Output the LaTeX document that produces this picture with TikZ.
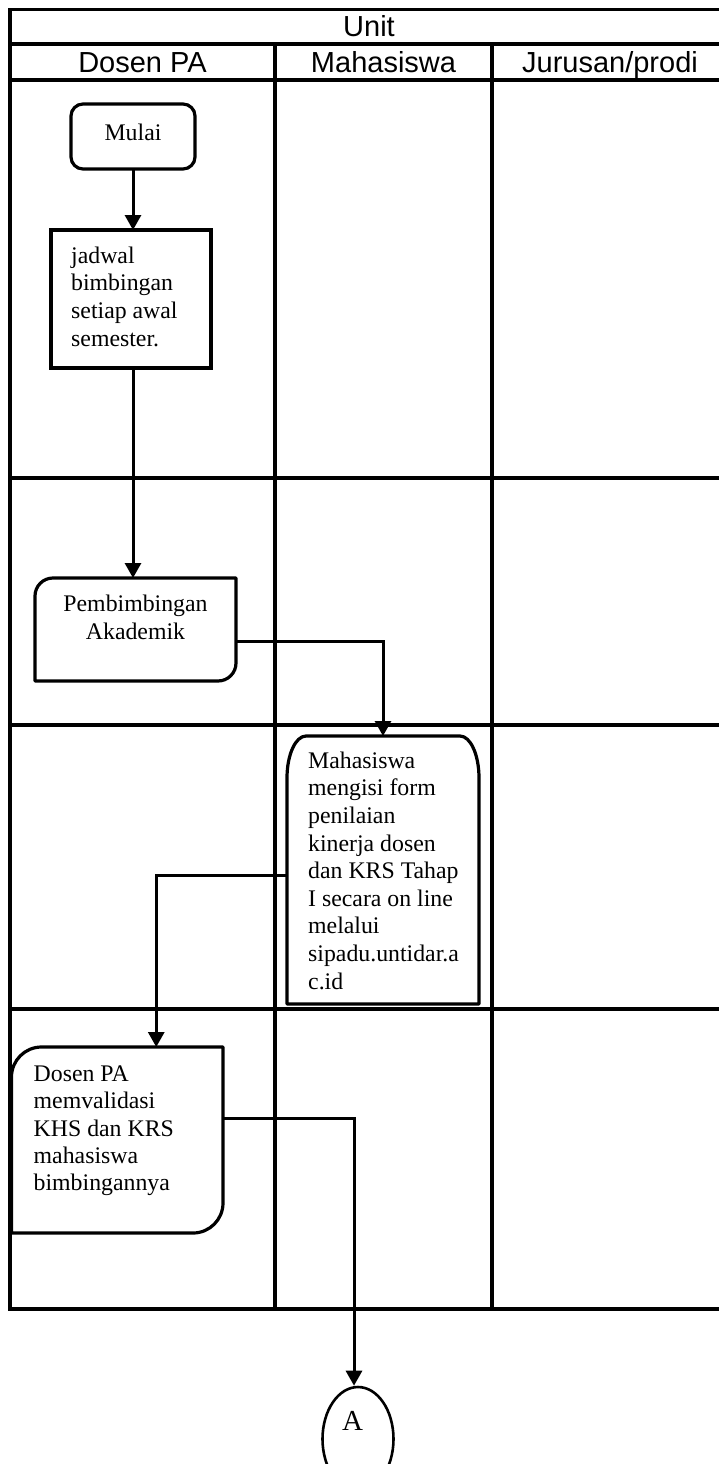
\documentclass[tikz,border=0pt]{standalone}
\usepackage{fontspec}
\setmainfont{Liberation Serif}
\newfontfamily\hdrfont{Liberation Sans}
\usetikzlibrary{arrows.meta,shapes.geometric,calc}
\begin{document}
\begin{tikzpicture}[x=1pt,y=1pt,
  tbl/.style={line width=3.3pt},
  boxline/.style={line width=3.2pt, line join=round},
  frame/.style={draw=none, inner sep=0pt, outer sep=0pt},
  hdr/.style={font=\hdrfont\fontsize{29}{34}\selectfont, anchor=base, inner sep=0pt},
  txt/.style={font=\fontsize{23.8}{27.6}\selectfont, inner sep=0pt, align=left, anchor=north west},
  conn/.style={line width=3pt, -{Triangle[length=15pt,width=16pt]}}
]
\useasboundingbox (0,0) rectangle (719,-1464);
\fill[white] (0,0) rectangle (719,-1464);

% table
\draw[tbl] (10,-9.5) rectangle (728,-1309);
\foreach \yy in {44,80,478,725,1009} \draw[tbl] (10,-\yy) -- (728,-\yy);
\foreach \xx in {275,492} \draw[tbl] (\xx,-44) -- (\xx,-1309);

% headers
\node[hdr] (unit) at (369,-37) {Unit};
\node[hdr] (hdosen) at (142.5,-72.5) {Dosen PA};
\node[hdr] (hmhs) at (383.5,-72.5) {Mahasiswa};
\node[hdr] (hjur) at (610,-72.5) {Jurusan/prodi};

% Mulai
\node[frame, draw, rounded corners=12pt, line width=3.2pt, minimum width=124pt, minimum height=65pt] (mulai) at (133,-136.5) {};
\node[font=\fontsize{23.8}{27.6}\selectfont, anchor=base, inner sep=0pt] (mulaitxt) at (133,-140) {Mulai};

% jadwal
\node[frame, draw, line width=3.2pt, minimum width=160pt, minimum height=138pt] (jadwal) at (131,-299) {};
\node[txt] (jadwaltxt) at (71,-245) {\rule{0pt}{18pt}jadwal\\bimbingan\\setiap awal\\semester.};

% Pembimbingan
\node[frame, minimum width=201pt, minimum height=103pt] (pem) at (135.5,-629.5) {};
\draw[boxline] (pem.south west) -- ([yshift=-18pt]pem.north west) arc[start angle=180,end angle=90,radius=18pt]
  -- (pem.north east) -- ([yshift=18pt]pem.south east) arc[start angle=0,end angle=-90,radius=18pt] -- cycle;
\node[txt, font=\fontsize{23.8}{28.3}\selectfont, align=center, anchor=north] (pemtxt) at (135.5,-593) {\rule{0pt}{18pt}Pembimbingan\\Akademik};

% Mahasiswa box
\node[frame, minimum width=192pt, minimum height=268pt] (mhs) at (383,-870) {};
\draw[boxline] (mhs.south west) -- ([yshift=-42pt]mhs.north west) arc[start angle=180,end angle=90,x radius=19pt,y radius=42pt]
  -- ([xshift=-19pt]mhs.north east) arc[start angle=90,end angle=0,x radius=19pt,y radius=42pt] -- (mhs.south east) -- cycle;
\node[txt] (mhstxt) at (308,-750) {\rule{0pt}{18pt}Mahasiswa\\mengisi form\\penilaian\\kinerja dosen\\dan KRS Tahap\\I secara on line\\melalui\\sipadu.untidar.a\\c.id};

% Dosen PA box
\node[frame, minimum width=211.5pt, minimum height=186pt] (dpa) at (117.25,-1140) {};
\draw[boxline] (dpa.south west) -- ([yshift=-30pt]dpa.north west) arc[start angle=180,end angle=90,radius=30pt]
  -- (dpa.north east) -- ([yshift=30pt]dpa.south east) arc[start angle=0,end angle=-90,radius=30pt] -- cycle;
\node[txt, font=\fontsize{23.8}{27.4}\selectfont] (dpatxt) at (33.5,-1063) {\rule{0pt}{18pt}Dosen PA\\memvalidasi\\KHS dan KRS\\mahasiswa\\bimbingannya};

% connector A
\node[draw, ellipse, line width=2.6pt, minimum width=71pt, minimum height=104pt, inner sep=0pt] (circA) at (358,-1439) {};
\node[font=\fontsize{29}{34}\selectfont, anchor=base, inner sep=0pt] (atxt) at (352.5,-1430.7) {A};

% connectors
\draw[conn] (mulai.south) -- (mulai.south |- jadwal.north);
\draw[conn] ([xshift=2pt]jadwal.south) -- ([xshift=2pt]jadwal.south |- pem.north);
\draw[conn] ([yshift=-11.5pt]pem.east) -| (mhs.north);
\draw[conn] ([yshift=-5pt]mhs.west) -| ([xshift=39pt]dpa.north);
\draw[conn] ([yshift=22pt]dpa.east) -| ([xshift=-4pt]circA.north);
\end{tikzpicture}
\end{document}
